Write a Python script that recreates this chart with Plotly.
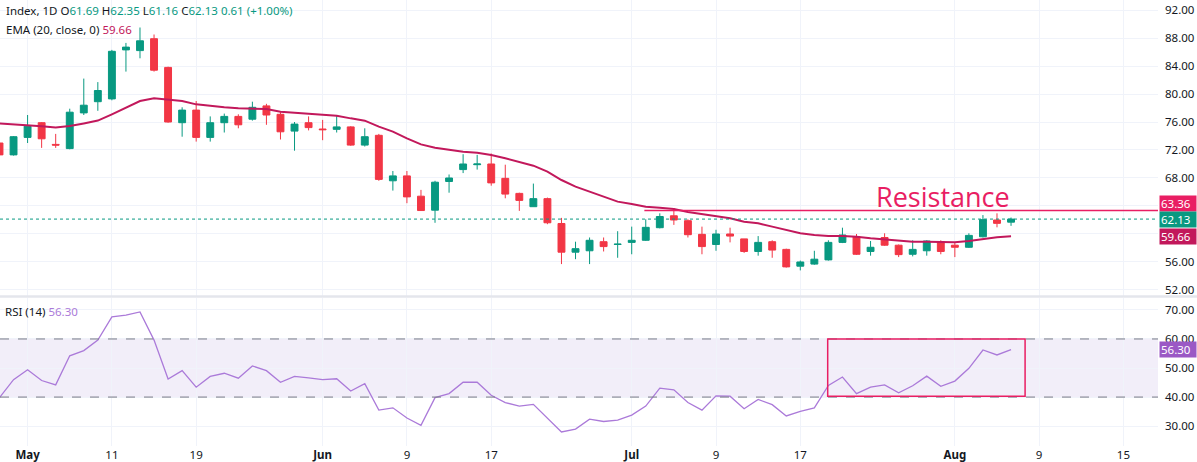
import plotly.graph_objects as go
from plotly.subplots import make_subplots

# ---- data (daily candles, oldest first) ----
opens = [73.0, 71.3, 73.8, 75.9, 72.8, 72.2, 77.3, 78.9, 79.3, 86.3,
         86.2, 87.9, 83.8, 75.9, 77.7, 73.8, 75.9, 76.8, 76.4, 78.3,
         77.1, 74.7, 75.9, 75.0, 74.95, 75.3, 72.7, 74.1, 67.6, 68.3,
         65.4, 63.4, 67.5, 69.2, 69.9, 70.0, 67.95, 65.8, 63.9, 65.05,
         61.5, 57.4, 57.6, 58.9, 58.5, 58.8, 59.1, 60.9, 62.6, 61.9,
         59.95, 58.5, 60.0, 59.3, 57.5, 58.9, 57.8, 55.4, 55.7, 56.3,
         58.8, 59.6, 57.5, 59.5, 58.4, 57.1, 57.6, 58.9, 58.4, 58.1,
         59.6, 62.0, 61.69]
highs = [73.9, 74.0, 77.0, 76.0, 74.3, 77.9, 82.2, 81.7, 86.3, 87.3,
         89.5, 88.5, 83.9, 78.1, 79.0, 76.8, 77.2, 77.1, 78.9, 78.6,
         77.4, 76.0, 76.8, 76.3, 77.0, 75.4, 75.1, 74.3, 69.0, 69.0,
         66.3, 67.6, 68.5, 71.4, 71.3, 71.5, 69.9, 65.9, 67.2, 65.2,
         62.3, 58.9, 59.5, 59.5, 60.4, 61.05, 62.1, 62.95, 63.7, 62.1,
         61.05, 60.6, 60.9, 59.3, 59.7, 59.1, 57.9, 56.2, 57.6, 59.1,
         60.9, 60.0, 59.0, 60.1, 58.5, 59.1, 59.1, 59.1, 58.8, 60.1,
         62.7, 62.95, 62.35]
lows = [71.0, 71.2, 73.0, 72.3, 72.3, 72.1, 77.0, 77.6, 79.1, 83.2,
        85.1, 83.2, 75.9, 73.9, 73.2, 73.2, 74.5, 75.1, 76.2, 75.6,
        73.5, 71.9, 74.8, 73.4, 74.5, 72.6, 72.5, 67.6, 66.2, 64.4,
        63.3, 61.6, 65.9, 68.7, 69.2, 66.9, 65.1, 63.3, 63.9, 61.4,
        55.7, 56.4, 55.7, 57.5, 56.6, 57.1, 59.0, 60.8, 61.3, 59.5,
        57.1, 57.6, 58.8, 57.3, 56.9, 56.6, 55.2, 54.8, 55.6, 56.2,
        58.7, 57.0, 56.9, 58.3, 56.7, 56.8, 56.9, 57.1, 56.7, 58.0,
        59.5, 60.95, 61.16]
closes = [71.3, 73.9, 75.4, 73.6, 72.7, 77.4, 78.4, 80.5, 86.1, 86.7,
          87.6, 83.4, 76.0, 77.7, 73.8, 75.9, 76.8, 75.6, 78.1, 77.0,
          74.6, 75.7, 75.2, 74.9, 75.3, 72.7, 73.9, 67.8, 68.3, 65.3,
          63.35, 67.4, 68.0, 70.0, 70.0, 67.3, 65.7, 64.8, 65.05, 61.6,
          57.4, 57.9, 59.1, 58.2, 58.55, 59.1, 60.95, 62.5, 62.0, 59.9,
          58.2, 60.0, 59.7, 57.5, 58.8, 57.7, 55.3, 56.0, 56.4, 58.8,
          59.86, 57.1, 58.1, 58.4, 57.05, 57.8, 59.0, 57.5, 58.1, 59.8,
          62.05, 61.52, 62.13]
ema20 = [75.8, 75.7, 75.57, 75.4, 75.2, 75.43, 75.8, 76.2, 77.1, 78.1,
         79.0, 79.38, 79.14, 79.0, 78.52, 78.29, 78.1, 77.95, 77.95, 77.86,
         77.48, 77.33, 77.19, 77.0, 76.9, 76.52, 76.19, 75.33, 74.62, 73.67,
         72.8, 72.33, 72.0, 71.76, 71.62, 71.29, 70.81, 70.24, 69.76, 68.9,
         67.71, 66.76, 66.05, 65.33, 64.62, 64.29, 63.9, 63.76, 63.57, 63.14,
         62.81, 62.48, 62.24, 61.76, 61.52, 61.05, 60.57, 60.1, 59.86, 59.71,
         59.71, 59.62, 59.38, 59.24, 59.05, 58.9, 58.9, 58.86, 58.81, 59.0,
         59.29, 59.52, 59.66]
rsi14 = [39.8, 46.0, 49.4, 45.7, 44.2, 54.2, 56.0, 59.6, 67.6, 68.2,
         69.3, 59.6, 46.2, 49.1, 43.4, 47.1, 48.2, 46.5, 50.7, 49.1,
         45.1, 47.1, 46.6, 46.0, 46.3, 42.1, 44.6, 35.5, 36.3, 32.8,
         30.3, 39.8, 41.2, 45.1, 45.1, 40.6, 38.1, 36.9, 37.5, 32.6,
         28.0, 29.0, 32.4, 31.6, 32.05, 33.8, 36.9, 43.1, 42.5, 38.1,
         35.5, 40.4, 40.3, 36.0, 39.2, 37.4, 33.5, 35.1, 36.3, 44.0,
         46.9, 41.2, 43.4, 44.2, 41.5, 43.9, 47.2, 43.7, 45.5, 49.9,
         56.2, 54.5, 56.3]

tick_pos = [2, 8, 14, 23, 29, 35, 45, 51, 57, 68, 74, 80]
tick_text = ["<b>May</b>", "11", "19", "<b>Jun</b>", "9", "17",
             "<b>Jul</b>", "9", "17", "<b>Aug</b>", "9", "15"]
price_ticks = [52, 56, 60, 64, 68, 72, 76, 80, 84, 88, 92]
hidden_price_ticks = [60, 64]
rsi_ticks = [30, 40, 50, 60, 70]

resistance = 63.36
resistance_from = 45.9
rsi_box_x = [58.95, 73.0]
rsi_box_y = [40.3, 60.0]

GREEN = "#089981"
RED = "#f23645"
EMA_C = "#c2185b"
PINK = "#e91e63"
RSI_C = "#ab7ad9"
RSI_BOX = "#9b59c5"
TXT = "#131722"
GRID = "#f0f3fa"
FONT = "Noto Sans"

W, H = 1197, 462
PLOT_W, PLOT_H = 1158, 446
x_range = [0.036, 82.46]
days = list(range(len(closes)))

fig = make_subplots(rows=2, cols=1, shared_xaxes=True, vertical_spacing=0)

fig.add_trace(go.Candlestick(
    x=days, open=opens, high=highs, low=lows, close=closes,
    increasing=dict(line=dict(color=GREEN, width=1), fillcolor=GREEN),
    decreasing=dict(line=dict(color=RED, width=1), fillcolor=RED),
    whiskerwidth=0, hoverinfo="skip", showlegend=False,
), row=1, col=1)

fig.add_trace(go.Scatter(
    x=days, y=ema20, mode="lines", line=dict(color=EMA_C, width=2),
    hoverinfo="skip", showlegend=False,
), row=1, col=1)

fig.add_trace(go.Scatter(
    x=days, y=rsi14, mode="lines", line=dict(color=RSI_C, width=1.3),
    hoverinfo="skip", showlegend=False,
), row=2, col=1)

# RSI band and dashed levels
fig.add_shape(type="rect", xref="x2 domain", yref="y2", x0=0, x1=1,
              y0=40, y1=60, fillcolor="rgba(126,87,194,0.1)", line_width=0, layer="below")
for lvl in (40, 60):
    fig.add_shape(type="line", xref="x2 domain", yref="y2", x0=0, x1=1, y0=lvl, y1=lvl,
                  line=dict(color="#787b86", width=1, dash="dash"))

# highlight box in RSI
fig.add_shape(type="rect", xref="x2", yref="y2", x0=rsi_box_x[0], x1=rsi_box_x[1],
              y0=rsi_box_y[0], y1=rsi_box_y[1], line=dict(color=PINK, width=1.5))

# last price dotted line and resistance
fig.add_shape(type="line", xref="x domain", yref="y", x0=0, x1=1,
              y0=closes[-1], y1=closes[-1], line=dict(color=GREEN, width=1, dash="dot"))
fig.add_shape(type="line", xref="x", yref="y", x0=resistance_from, x1=x_range[1],
              y0=resistance, y1=resistance, line=dict(color=PINK, width=1.5))

# pane separator
fig.add_shape(type="line", xref="paper", yref="paper", x0=0, x1=W / PLOT_W,
              y0=1 - 296.5 / PLOT_H, y1=1 - 296.5 / PLOT_H,
              line=dict(color="#e4e6ec", width=2.5))

fig.add_annotation(x=67.15, y=65.35, xref="x", yref="y", text="Resistance",
                   showarrow=False, font=dict(family="Open Sans", size=27, color=PINK))

# axis value boxes
def axis_box(y, yref, text, color, shift=0):
    fig.add_annotation(x=1, y=y, xref="paper", yref=yref, text=text, showarrow=False,
                       xanchor="left", yanchor="middle", align="left", yshift=shift,
                       bgcolor=color, width=34, height=13, borderpad=1, xshift=1,
                       font=dict(family=FONT, size=11.5, color="white"))

axis_box(resistance, "y", f"{resistance:.2f}", PINK, shift=7)
axis_box(closes[-1], "y", f"{closes[-1]:.2f}", GREEN)
axis_box(ema20[-1], "y", f"{ema20[-1]:.2f}", EMA_C)
axis_box(rsi14[-1], "y2", f"{rsi14[-1]:.2f}", RSI_BOX)

# header texts
def span(v, c):
    return f"<span style='color:{c}'>{v}</span>"

line1 = ("Index, 1D O" + span(f"{opens[-1]:.2f}", GREEN) + " H" + span(f"{highs[-1]:.2f}", GREEN)
         + " L" + span(f"{lows[-1]:.2f}", GREEN) + " C" + span(f"{closes[-1]:.2f}", GREEN)
         + " " + span("0.61 (+1.00%)", GREEN))
line2 = "EMA (20, close, 0) " + span(f"{ema20[-1]:.2f}", EMA_C)
line3 = "RSI (14) " + span(f"{rsi14[-1]:.2f}", RSI_C)
for txt, xp, yp in ((line1, 4, 11), (line2, 4, 30), (line3, 3, 311)):
    fig.add_annotation(x=xp / PLOT_W, y=1 - yp / PLOT_H, xref="paper", yref="paper", text=txt,
                       showarrow=False, xanchor="left", yanchor="middle",
                       font=dict(family=FONT, size=11.5, color=TXT))

price_text = ["" if v in hidden_price_ticks else f"{v:.2f}" for v in price_ticks]

fig.update_layout(
    width=W, height=H,
    margin=dict(l=0, r=W - PLOT_W, t=0, b=H - PLOT_H),
    paper_bgcolor="white", plot_bgcolor="white",
    font=dict(family=FONT, size=11, color=TXT),
    showlegend=False,
    xaxis=dict(range=x_range, tickvals=tick_pos, ticktext=tick_text, showticklabels=False,
               showgrid=True, gridcolor=GRID, zeroline=False, rangeslider=dict(visible=False)),
    xaxis2=dict(range=x_range, tickvals=tick_pos, ticktext=tick_text, showgrid=True,
                gridcolor=GRID, zeroline=False, ticks="", tickfont=dict(size=11.5, color=TXT)),
    yaxis=dict(domain=[1 - 296 / PLOT_H, 1], range=[51.14, 93.43], side="right",
               tickvals=price_ticks, ticktext=price_text, showgrid=True, gridcolor=GRID,
               zeroline=False, ticklabelstandoff=6, tickfont=dict(size=11.5, color=TXT)),
    yaxis2=dict(domain=[0, 1 - 298 / PLOT_H], range=[23.16, 74.1], side="right",
                tickvals=rsi_ticks, ticktext=[f"{v:.2f}" for v in rsi_ticks],
                showgrid=True, gridcolor=GRID, zeroline=False, ticklabelstandoff=6,
                tickfont=dict(size=11.5, color=TXT)),
)

# the page body has a default 8px margin; drop it so the chart fills the window
fig.write_html("out.html", config={"displayModeBar": False},
               post_script="document.body.style.margin='0';")
